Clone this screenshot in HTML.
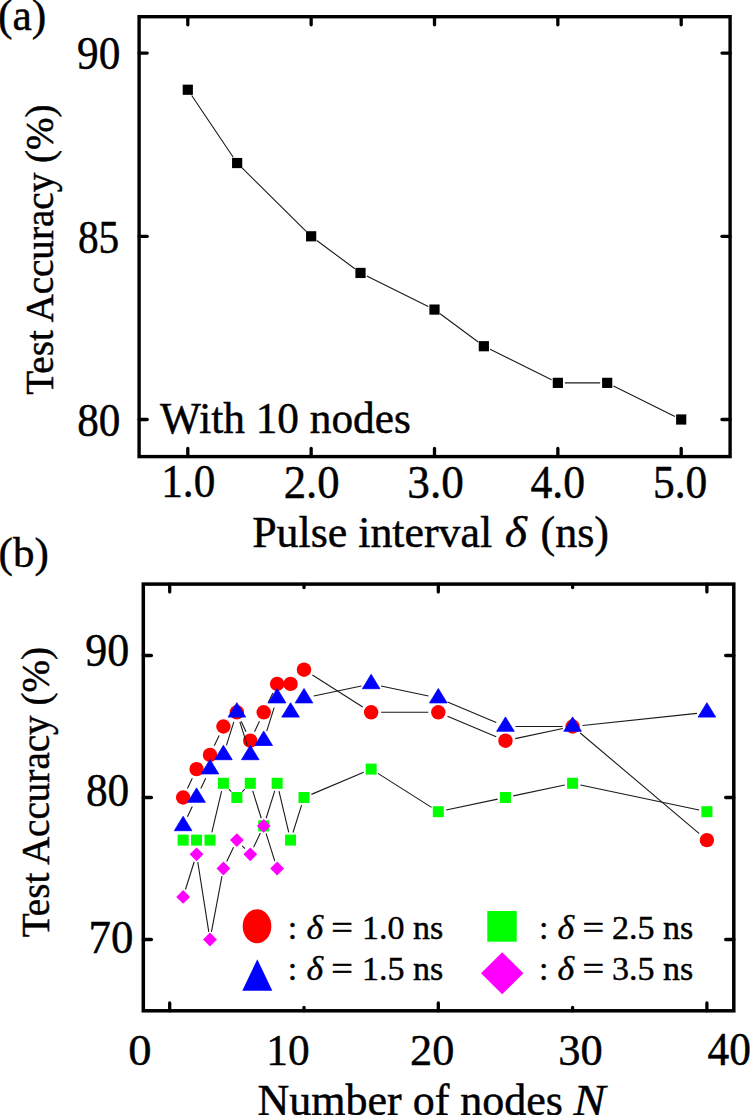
<!DOCTYPE html>
<html><head><meta charset="utf-8"><style>
html,body{margin:0;padding:0;background:#fff;overflow:hidden;}
svg{display:block;}
text{font-family:"Liberation Serif",serif;fill:#000;stroke:#000;stroke-width:0.45px;}
</style></head><body>
<svg width="750" height="1115" viewBox="0 0 750 1115">
<rect width="750" height="1115" fill="#fff"/>
<rect x="139.1" y="16.7" width="591.00" height="439.90" fill="none" stroke="#000" stroke-width="3.4"/>
<line x1="187.80" y1="16.7" x2="187.80" y2="24.799999999999997" stroke="#000" stroke-width="3.3" stroke-linecap="round"/>
<line x1="187.80" y1="456.6" x2="187.80" y2="448.5" stroke="#000" stroke-width="3.3" stroke-linecap="round"/>
<line x1="311.15" y1="16.7" x2="311.15" y2="24.799999999999997" stroke="#000" stroke-width="3.3" stroke-linecap="round"/>
<line x1="311.15" y1="456.6" x2="311.15" y2="448.5" stroke="#000" stroke-width="3.3" stroke-linecap="round"/>
<line x1="434.50" y1="16.7" x2="434.50" y2="24.799999999999997" stroke="#000" stroke-width="3.3" stroke-linecap="round"/>
<line x1="434.50" y1="456.6" x2="434.50" y2="448.5" stroke="#000" stroke-width="3.3" stroke-linecap="round"/>
<line x1="557.85" y1="16.7" x2="557.85" y2="24.799999999999997" stroke="#000" stroke-width="3.3" stroke-linecap="round"/>
<line x1="557.85" y1="456.6" x2="557.85" y2="448.5" stroke="#000" stroke-width="3.3" stroke-linecap="round"/>
<line x1="681.20" y1="16.7" x2="681.20" y2="24.799999999999997" stroke="#000" stroke-width="3.3" stroke-linecap="round"/>
<line x1="681.20" y1="456.6" x2="681.20" y2="448.5" stroke="#000" stroke-width="3.3" stroke-linecap="round"/>
<line x1="139.1" y1="53.10" x2="147.2" y2="53.10" stroke="#000" stroke-width="3.3" stroke-linecap="round"/>
<line x1="730.1" y1="53.10" x2="722.0" y2="53.10" stroke="#000" stroke-width="3.3" stroke-linecap="round"/>
<line x1="139.1" y1="236.30" x2="147.2" y2="236.30" stroke="#000" stroke-width="3.3" stroke-linecap="round"/>
<line x1="730.1" y1="236.30" x2="722.0" y2="236.30" stroke="#000" stroke-width="3.3" stroke-linecap="round"/>
<line x1="139.1" y1="419.50" x2="147.2" y2="419.50" stroke="#000" stroke-width="3.3" stroke-linecap="round"/>
<line x1="730.1" y1="419.50" x2="722.0" y2="419.50" stroke="#000" stroke-width="3.3" stroke-linecap="round"/>
<path d="M191.71,95.55L233.23,157.21M242.11,167.95L306.18,231.37M316.77,240.47L354.87,268.77M366.76,276.05L428.23,306.47M440.12,313.75L478.22,342.05M490.11,349.33L551.58,379.75M564.85,382.86L600.19,382.86M613.46,385.97L674.93,416.39" fill="none" stroke="#1a1a1a" stroke-width="1.1"/>
<rect x="182.70" y="84.64" width="10.2" height="10.2" fill="#000"/>
<rect x="232.04" y="157.92" width="10.2" height="10.2" fill="#000"/>
<rect x="306.05" y="231.20" width="10.2" height="10.2" fill="#000"/>
<rect x="355.39" y="267.84" width="10.2" height="10.2" fill="#000"/>
<rect x="429.40" y="304.48" width="10.2" height="10.2" fill="#000"/>
<rect x="478.74" y="341.12" width="10.2" height="10.2" fill="#000"/>
<rect x="552.75" y="377.76" width="10.2" height="10.2" fill="#000"/>
<rect x="602.09" y="377.76" width="10.2" height="10.2" fill="#000"/>
<rect x="676.10" y="414.40" width="10.2" height="10.2" fill="#000"/>
<text transform="translate(77.06,69.40) scale(0.9624,1.0551)" font-size="45">90</text>
<text transform="translate(77.88,253.41) scale(0.9195,1.0222)" font-size="45">85</text>
<text transform="translate(77.13,435.71) scale(0.9607,1.0092)" font-size="45">80</text>
<text transform="translate(161.22,497.29) scale(0.9610,1.0447)" font-size="45">1.0</text>
<text transform="translate(283.64,497.66) scale(0.9929,1.0447)" font-size="45">2.0</text>
<text transform="translate(407.35,497.66) scale(1.0046,1.0447)" font-size="45">3.0</text>
<text transform="translate(530.42,497.66) scale(0.9713,1.0447)" font-size="45">4.0</text>
<text transform="translate(652.93,497.66) scale(0.9665,1.0447)" font-size="45">5.0</text>
<text transform="translate(85.19,665.70) scale(0.9784,1.0551)" font-size="45">90</text>
<text transform="translate(85.88,806.40) scale(0.9626,1.0275)" font-size="45">80</text>
<text transform="translate(88.49,952.71) scale(0.9968,1.0320)" font-size="45">70</text>
<text transform="translate(128.34,1065.18) scale(1.0360,0.9974)" font-size="45">0</text>
<text transform="translate(266.30,1064.73) scale(0.9627,0.9859)" font-size="45">10</text>
<text transform="translate(410.07,1064.73) scale(0.9850,0.9859)" font-size="45">20</text>
<text transform="translate(558.31,1064.73) scale(0.9893,0.9859)" font-size="45">30</text>
<text transform="translate(707.58,1065.05) scale(0.9649,1.0160)" font-size="45">40</text>
<text x="-2.1" y="30.4" font-size="43.5">(a)</text>
<text x="160" y="432.8" font-size="43.3">With 10 nodes</text>
<text transform="translate(252.2,546.9) scale(0.986,1)" font-size="44.5">Pulse interval</text>
<text transform="translate(504.7,546.9) scale(1.07,1)" font-size="44.5" font-style="italic">δ</text>
<text transform="translate(540.5,546.9) scale(0.99,1)" font-size="44.5">(ns)</text>
<text transform="translate(53.1,394.8) rotate(-90) scale(0.978,1)" font-size="40">Test Accuracy (%)</text>
<rect x="143.3" y="584.1" width="590.50" height="426.70" fill="none" stroke="#000" stroke-width="3.5"/>
<line x1="169.70" y1="584.1" x2="169.70" y2="591.9" stroke="#000" stroke-width="3.3" stroke-linecap="round"/>
<line x1="169.70" y1="1010.8" x2="169.70" y2="1003.0" stroke="#000" stroke-width="3.3" stroke-linecap="round"/>
<line x1="304.00" y1="584.1" x2="304.00" y2="587.5" stroke="#000" stroke-width="3.3" stroke-linecap="round"/>
<line x1="304.00" y1="1010.8" x2="304.00" y2="1007.4" stroke="#000" stroke-width="3.3" stroke-linecap="round"/>
<line x1="438.30" y1="584.1" x2="438.30" y2="591.9" stroke="#000" stroke-width="3.3" stroke-linecap="round"/>
<line x1="438.30" y1="1010.8" x2="438.30" y2="1003.0" stroke="#000" stroke-width="3.3" stroke-linecap="round"/>
<line x1="572.60" y1="584.1" x2="572.60" y2="587.5" stroke="#000" stroke-width="3.3" stroke-linecap="round"/>
<line x1="572.60" y1="1010.8" x2="572.60" y2="1007.4" stroke="#000" stroke-width="3.3" stroke-linecap="round"/>
<line x1="706.90" y1="584.1" x2="706.90" y2="591.9" stroke="#000" stroke-width="3.3" stroke-linecap="round"/>
<line x1="706.90" y1="1010.8" x2="706.90" y2="1003.0" stroke="#000" stroke-width="3.3" stroke-linecap="round"/>
<line x1="143.3" y1="655.50" x2="151.4" y2="655.50" stroke="#000" stroke-width="3.3" stroke-linecap="round"/>
<line x1="733.8" y1="655.50" x2="725.6999999999999" y2="655.50" stroke="#000" stroke-width="3.3" stroke-linecap="round"/>
<line x1="143.3" y1="797.50" x2="151.4" y2="797.50" stroke="#000" stroke-width="3.3" stroke-linecap="round"/>
<line x1="733.8" y1="797.50" x2="725.6999999999999" y2="797.50" stroke="#000" stroke-width="3.3" stroke-linecap="round"/>
<line x1="143.3" y1="939.50" x2="151.4" y2="939.50" stroke="#000" stroke-width="3.3" stroke-linecap="round"/>
<line x1="733.8" y1="939.50" x2="725.6999999999999" y2="939.50" stroke="#000" stroke-width="3.3" stroke-linecap="round"/>
<path d="M187.40,788.46L192.29,778.14M214.26,745.86L219.15,735.54M241.12,721.34L246.01,731.66M254.55,731.66L259.44,721.34M267.98,703.26L272.87,692.94M312.44,675.06L362.71,706.94M381.15,712.30L428.30,712.30M447.51,716.20L496.24,736.80M515.23,738.63L562.82,728.57M580.23,732.96L699.27,833.64" fill="none" stroke="#1a1a1a" stroke-width="1.1"/>
<circle cx="183.13" cy="797.50" r="7.2" fill="#ff0000"/>
<circle cx="196.56" cy="769.10" r="7.2" fill="#ff0000"/>
<circle cx="209.99" cy="754.90" r="7.2" fill="#ff0000"/>
<circle cx="223.42" cy="726.50" r="7.2" fill="#ff0000"/>
<circle cx="236.85" cy="712.30" r="7.2" fill="#ff0000"/>
<circle cx="250.28" cy="740.70" r="7.2" fill="#ff0000"/>
<circle cx="263.71" cy="712.30" r="7.2" fill="#ff0000"/>
<circle cx="277.14" cy="683.90" r="7.2" fill="#ff0000"/>
<circle cx="290.57" cy="683.90" r="7.2" fill="#ff0000"/>
<circle cx="304.00" cy="669.70" r="7.2" fill="#ff0000"/>
<circle cx="371.15" cy="712.30" r="7.2" fill="#ff0000"/>
<circle cx="438.30" cy="712.30" r="7.2" fill="#ff0000"/>
<circle cx="505.45" cy="740.70" r="7.2" fill="#ff0000"/>
<circle cx="572.60" cy="726.50" r="7.2" fill="#ff0000"/>
<circle cx="706.90" cy="840.10" r="7.2" fill="#ff0000"/>
<path d="M187.40,816.86L192.29,806.54M200.83,788.46L205.72,778.14M226.43,745.36L233.84,721.84M239.86,721.84L247.27,745.36M266.72,731.16L274.13,707.64M313.78,696.03L361.37,685.97M380.93,685.97L428.52,696.03M447.51,702.00L496.24,722.60M515.45,726.50L562.60,726.50M582.54,725.45L696.96,713.35" fill="none" stroke="#1a1a1a" stroke-width="1.1"/>
<path d="M183.13,816.30L191.93,830.70L174.33,830.70Z" fill="#0000ff" stroke="#0000ff" stroke-width="0.8" stroke-linejoin="round"/>
<path d="M196.56,787.90L205.36,802.30L187.76,802.30Z" fill="#0000ff" stroke="#0000ff" stroke-width="0.8" stroke-linejoin="round"/>
<path d="M209.99,759.50L218.79,773.90L201.19,773.90Z" fill="#0000ff" stroke="#0000ff" stroke-width="0.8" stroke-linejoin="round"/>
<path d="M223.42,745.30L232.22,759.70L214.62,759.70Z" fill="#0000ff" stroke="#0000ff" stroke-width="0.8" stroke-linejoin="round"/>
<path d="M236.85,702.70L245.65,717.10L228.05,717.10Z" fill="#0000ff" stroke="#0000ff" stroke-width="0.8" stroke-linejoin="round"/>
<path d="M250.28,745.30L259.08,759.70L241.48,759.70Z" fill="#0000ff" stroke="#0000ff" stroke-width="0.8" stroke-linejoin="round"/>
<path d="M263.71,731.10L272.51,745.50L254.91,745.50Z" fill="#0000ff" stroke="#0000ff" stroke-width="0.8" stroke-linejoin="round"/>
<path d="M277.14,688.50L285.94,702.90L268.34,702.90Z" fill="#0000ff" stroke="#0000ff" stroke-width="0.8" stroke-linejoin="round"/>
<path d="M290.57,702.70L299.37,717.10L281.77,717.10Z" fill="#0000ff" stroke="#0000ff" stroke-width="0.8" stroke-linejoin="round"/>
<path d="M304.00,688.50L312.80,702.90L295.20,702.90Z" fill="#0000ff" stroke="#0000ff" stroke-width="0.8" stroke-linejoin="round"/>
<path d="M371.15,674.30L379.95,688.70L362.35,688.70Z" fill="#0000ff" stroke="#0000ff" stroke-width="0.8" stroke-linejoin="round"/>
<path d="M438.30,688.50L447.10,702.90L429.50,702.90Z" fill="#0000ff" stroke="#0000ff" stroke-width="0.8" stroke-linejoin="round"/>
<path d="M505.45,716.90L514.25,731.30L496.65,731.30Z" fill="#0000ff" stroke="#0000ff" stroke-width="0.8" stroke-linejoin="round"/>
<path d="M572.60,716.90L581.40,731.30L563.80,731.30Z" fill="#0000ff" stroke="#0000ff" stroke-width="0.8" stroke-linejoin="round"/>
<path d="M706.90,702.70L715.70,717.10L698.10,717.10Z" fill="#0000ff" stroke="#0000ff" stroke-width="0.8" stroke-linejoin="round"/>
<path d="M211.83,832.31L221.58,791.09M228.92,789.11L231.35,791.69M242.35,791.69L244.78,789.11M252.69,790.93L261.30,818.27M266.12,818.27L274.73,790.93M278.98,791.09L288.73,832.31M292.98,832.47L301.59,805.13M311.37,794.38L363.78,772.22M377.91,773.39L431.54,807.41M446.13,810.04L497.62,799.16M513.28,795.84L564.77,784.96M580.43,784.96L699.07,810.04" fill="none" stroke="#1a1a1a" stroke-width="1.1"/>
<rect x="177.63" y="834.60" width="11" height="11" fill="#00ff00"/>
<rect x="191.06" y="834.60" width="11" height="11" fill="#00ff00"/>
<rect x="204.49" y="834.60" width="11" height="11" fill="#00ff00"/>
<rect x="217.92" y="777.80" width="11" height="11" fill="#00ff00"/>
<rect x="231.35" y="792.00" width="11" height="11" fill="#00ff00"/>
<rect x="244.78" y="777.80" width="11" height="11" fill="#00ff00"/>
<rect x="258.21" y="820.40" width="11" height="11" fill="#00ff00"/>
<rect x="271.64" y="777.80" width="11" height="11" fill="#00ff00"/>
<rect x="285.07" y="834.60" width="11" height="11" fill="#00ff00"/>
<rect x="298.50" y="792.00" width="11" height="11" fill="#00ff00"/>
<rect x="365.65" y="763.60" width="11" height="11" fill="#00ff00"/>
<rect x="432.80" y="806.20" width="11" height="11" fill="#00ff00"/>
<rect x="499.95" y="792.00" width="11" height="11" fill="#00ff00"/>
<rect x="567.10" y="777.80" width="11" height="11" fill="#00ff00"/>
<rect x="701.40" y="806.20" width="11" height="11" fill="#00ff00"/>
<path d="M185.48,889.46L194.21,861.74M197.77,862.00L208.78,931.80M211.44,931.84L221.97,876.16M226.75,861.45L233.52,847.15M242.21,845.77L244.92,848.63M253.61,847.25L260.38,832.95M266.06,833.34L274.79,861.06" fill="none" stroke="#1a1a1a" stroke-width="1.1"/>
<path d="M183.13,890.00L190.03,896.90L183.13,903.80L176.23,896.90Z" fill="#ff00ff"/>
<path d="M196.56,847.40L203.46,854.30L196.56,861.20L189.66,854.30Z" fill="#ff00ff"/>
<path d="M209.99,932.60L216.89,939.50L209.99,946.40L203.09,939.50Z" fill="#ff00ff"/>
<path d="M223.42,861.60L230.32,868.50L223.42,875.40L216.52,868.50Z" fill="#ff00ff"/>
<path d="M236.85,833.20L243.75,840.10L236.85,847.00L229.95,840.10Z" fill="#ff00ff"/>
<path d="M250.28,847.40L257.18,854.30L250.28,861.20L243.38,854.30Z" fill="#ff00ff"/>
<path d="M263.71,819.00L270.61,825.90L263.71,832.80L256.81,825.90Z" fill="#ff00ff"/>
<path d="M277.14,861.60L284.04,868.50L277.14,875.40L270.24,868.50Z" fill="#ff00ff"/>
<text x="-1.4" y="566.8" font-size="43">(b)</text>
<text x="257.5" y="1114.5" font-size="44">Number of nodes</text>
<text transform="translate(573.6,1114.5) scale(1.09,1)" font-size="44" font-style="italic">N</text>
<text transform="translate(49,937.3) rotate(-90) scale(0.954,1)" font-size="41">Test Accuracy (%)</text>
<ellipse cx="257" cy="926.3" rx="14.3" ry="17" fill="#ff0000"/>
<path d="M257.3,959.3L272.3,990.7L242.3,990.7Z" fill="#0000ff"/>
<rect x="487.3" y="911" width="29.4" height="30.7" fill="#00ff00"/>
<path d="M502.2,952.3L523.4,973.3L502.2,994.3L481,973.3Z" fill="#ff00ff"/>
<text x="287.80" y="939.3" font-size="34">:</text><text transform="translate(306.40,939.3) scale(1.05,1)" font-size="34" font-style="italic">δ</text><text transform="translate(331.30,939.3) scale(1.13,1)" font-size="34">=</text><text x="362.00" y="939.3" font-size="34">1.0 ns</text>
<text x="287.80" y="979.7" font-size="34">:</text><text transform="translate(306.40,979.7) scale(1.05,1)" font-size="34" font-style="italic">δ</text><text transform="translate(331.30,979.7) scale(1.13,1)" font-size="34">=</text><text x="362.00" y="979.7" font-size="34">1.5 ns</text>
<text x="538.90" y="939.3" font-size="34">:</text><text transform="translate(557.50,939.3) scale(1.05,1)" font-size="34" font-style="italic">δ</text><text transform="translate(582.40,939.3) scale(1.13,1)" font-size="34">=</text><text x="611.90" y="939.3" font-size="34">2.5 ns</text>
<text x="538.90" y="979.7" font-size="34">:</text><text transform="translate(557.50,979.7) scale(1.05,1)" font-size="34" font-style="italic">δ</text><text transform="translate(582.40,979.7) scale(1.13,1)" font-size="34">=</text><text x="611.90" y="979.7" font-size="34">3.5 ns</text>
</svg>
</body></html>
